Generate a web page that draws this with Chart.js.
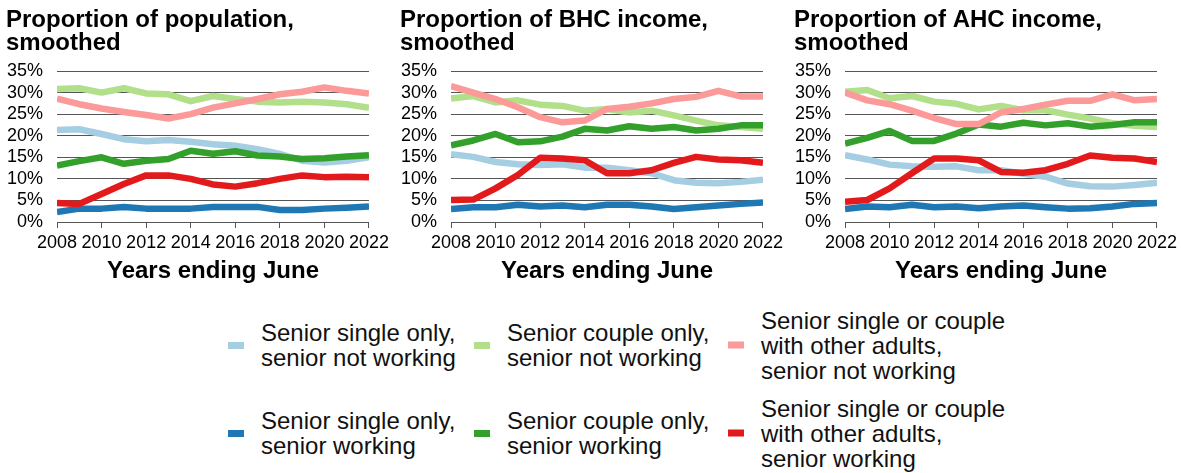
<!DOCTYPE html>
<html>
<head>
<meta charset="utf-8">
<script src="https://cdn.jsdelivr.net/npm/chart.js@4"></script>
<style>
  body { margin: 0; background: #fff; width: 1181px; height: 473px; position: relative; overflow: hidden;
         font-family: 'Liberation Sans', Arial, sans-serif; }
  canvas { position: absolute; top: 0; }
  .item { position: absolute; display: flex; align-items: center; transform: translateY(-50%);
          font-size: 24px; line-height: 25px; color: #111; white-space: nowrap; }
  .sw { width: 16px; height: 7px; margin-right: 17px; flex: none; }
</style>
</head>
<body>
<canvas id="chartPop" width="393" height="292" style="left:0"></canvas>
<canvas id="chartBHC" width="393" height="292" style="left:394px"></canvas>
<canvas id="chartAHC" width="393" height="292" style="left:788px"></canvas>
<div id="legend"></div>
<script>
const years = [2008, 2009, 2010, 2011, 2012, 2013, 2014, 2015, 2016, 2017, 2018, 2019, 2020, 2021, 2022];

// Proportion of population, smoothed (%)
const popSingleNW = [21.3, 21.5, 20.4, 19.2, 18.7, 19.0, 18.6, 18.0, 17.7, 16.9, 15.8, 14.2, 13.8, 14.2, 15.0];
const popSingleW  = [2.3, 3.1, 3.1, 3.5, 3.1, 3.1, 3.1, 3.5, 3.5, 3.5, 2.8, 2.8, 3.1, 3.3, 3.6];
const popCoupleNW = [30.8, 31.0, 30.0, 31.0, 29.8, 29.6, 28.0, 29.2, 28.5, 27.9, 27.7, 27.9, 27.7, 27.3, 26.5];
const popCoupleW  = [13.1, 14.1, 15.0, 13.5, 14.2, 14.6, 16.5, 15.8, 16.4, 15.4, 15.2, 14.6, 14.8, 15.2, 15.5];
const popOtherNW  = [28.6, 27.3, 26.3, 25.5, 24.8, 24.0, 25.0, 26.5, 27.5, 28.5, 29.6, 30.2, 31.2, 30.4, 29.8];
const popOtherW   = [4.4, 4.2, 6.5, 8.8, 10.8, 10.8, 10.0, 8.7, 8.2, 9.0, 10.0, 10.8, 10.4, 10.5, 10.4];

// Proportion of BHC income, smoothed (%)
const bhcSingleNW = [15.7, 15.1, 13.9, 13.4, 13.2, 13.4, 12.6, 12.6, 12.0, 11.3, 9.7, 9.1, 9.0, 9.3, 9.8];
const bhcSingleW  = [3.0, 3.4, 3.4, 4.0, 3.6, 3.8, 3.4, 4.0, 4.0, 3.6, 3.0, 3.4, 3.8, 4.2, 4.5];
const bhcCoupleNW = [28.6, 29.2, 27.7, 28.2, 27.2, 26.9, 25.8, 26.2, 25.4, 25.8, 24.7, 23.5, 22.4, 22.0, 21.6];
const bhcCoupleW  = [17.8, 18.9, 20.4, 18.5, 18.7, 19.8, 21.6, 21.2, 22.2, 21.6, 22.0, 21.2, 21.6, 22.4, 22.4];
const bhcOtherNW  = [31.5, 30.0, 28.5, 26.6, 24.3, 23.1, 23.5, 26.2, 26.7, 27.5, 28.5, 29.0, 30.4, 29.1, 29.1];
const bhcOtherW   = [5.1, 5.2, 7.8, 10.9, 14.9, 14.7, 14.3, 11.3, 11.3, 12.0, 13.7, 15.1, 14.5, 14.3, 13.7];

// Proportion of AHC income, smoothed (%)
const ahcSingleNW = [15.5, 14.5, 13.3, 12.9, 12.8, 12.9, 12.0, 12.0, 11.2, 10.5, 8.9, 8.3, 8.2, 8.6, 9.1];
const ahcSingleW  = [3.0, 3.6, 3.4, 4.0, 3.4, 3.6, 3.2, 3.6, 3.8, 3.4, 3.1, 3.2, 3.6, 4.2, 4.4];
const ahcCoupleNW = [30.2, 30.6, 28.7, 29.2, 27.9, 27.4, 26.1, 26.9, 25.9, 25.9, 24.9, 24.0, 22.9, 22.3, 22.0];
const ahcCoupleW  = [18.2, 19.5, 21.1, 18.8, 18.8, 20.5, 22.6, 22.1, 23.0, 22.4, 22.9, 22.1, 22.5, 23.1, 23.1];
const ahcOtherNW  = [30.0, 28.2, 27.3, 25.8, 24.1, 22.7, 22.7, 25.4, 26.2, 27.2, 28.1, 28.1, 29.6, 28.2, 28.5];
const ahcOtherW   = [4.7, 5.1, 7.8, 11.3, 14.7, 14.7, 14.3, 11.6, 11.4, 12.0, 13.5, 15.4, 14.9, 14.7, 13.9];

// Series order: single NW, single W, couple NW, couple W, other NW, other W
const seriesLabels = [
  ['Senior single only,', 'senior not working'],
  ['Senior single only,', 'senior working'],
  ['Senior couple only,', 'senior not working'],
  ['Senior couple only,', 'senior working'],
  ['Senior single or couple', 'with other adults,', 'senior not working'],
  ['Senior single or couple', 'with other adults,', 'senior working']
];
const seriesColors = ['#a6cee3', '#1f78b4', '#b2df8a', '#33a02c', '#fb9a99', '#e31a1c'];
const yTicks = [0, 5, 10, 15, 20, 25, 30, 35];

Chart.defaults.font.family = "'Liberation Sans', Arial, sans-serif";
Chart.defaults.color = '#000';

function makeChart(id, title, series) {
  const datasets = series.map((vals, i) => ({
    label: seriesLabels[i].join(' '),
    data: years.map((y, j) => ({ x: y, y: vals[j] })),
    borderColor: seriesColors[i],
    backgroundColor: seriesColors[i],
    borderWidth: 6.5,
    borderJoinStyle: 'round',
    pointRadius: 0,
    tension: 0,
    order: series.length - i   // red drawn last, on top
  }));

  new Chart(document.getElementById(id), {
    type: 'line',
    data: { datasets },
    options: {
      responsive: false,
      animation: false,
      layout: { padding: { left: 6, right: 0, top: 0, bottom: 0 } },
      plugins: {
        legend: { display: false },
        tooltip: { enabled: false },
        title: {
          display: true, text: title, align: 'start', color: '#000',
          font: { size: 24, weight: 'bold', lineHeight: '23px' },
          padding: { top: 9, bottom: 16 }
        }
      },
      scales: {
        x: {
          type: 'linear', min: years[0], max: years[years.length - 1],
          ticks: { stepSize: 2, autoSkip: false, maxRotation: 0, padding: 4, font: { size: 18 }, callback: v => String(v) },
          grid: { drawOnChartArea: false, drawTicks: true, tickLength: 6, color: '#555' },
          border: { color: '#555' },
          title: { display: true, text: 'Years ending June', font: { size: 24, weight: 'bold' }, padding: { top: 0, bottom: 6 } },
          afterFit: s => { s.height = 70; }
        },
        y: {
          min: yTicks[0], max: yTicks[yTicks.length - 1],
          ticks: { stepSize: 5, autoSkip: false, padding: 14, font: { size: 18 }, callback: v => v + '%' },
          grid: { color: '#555', drawTicks: false },
          border: { display: false },
          afterFit: s => { s.width = 51; }
        }
      }
    }
  });
}

makeChart('chartPop', ['Proportion of population,', 'smoothed'],
  [popSingleNW, popSingleW, popCoupleNW, popCoupleW, popOtherNW, popOtherW]);
makeChart('chartBHC', ['Proportion of BHC income,', 'smoothed'],
  [bhcSingleNW, bhcSingleW, bhcCoupleNW, bhcCoupleW, bhcOtherNW, bhcOtherW]);
makeChart('chartAHC', ['Proportion of AHC income,', 'smoothed'],
  [ahcSingleNW, ahcSingleW, ahcCoupleNW, ahcCoupleW, ahcOtherNW, ahcOtherW]);

// Shared legend: not-working row on top, working row below
const legendCols = [228, 474, 728];
const legendRows = [345, 433];
const legendOrder = [[0, 2, 4], [1, 3, 5]];
const legend = document.getElementById('legend');
legendOrder.forEach((row, r) => {
  row.forEach((idx, c) => {
    const item = document.createElement('div');
    item.className = 'item';
    item.style.left = legendCols[c] + 'px';
    item.style.top = legendRows[r] + 'px';
    item.innerHTML = `<span class="sw" style="background:${seriesColors[idx]}"></span><span>${seriesLabels[idx].join('<br>')}</span>`;
    legend.appendChild(item);
  });
});
</script>
</body>
</html>
